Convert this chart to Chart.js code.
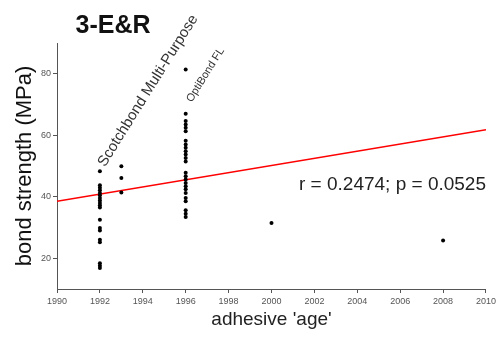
<!DOCTYPE html>
<html>
<head>
<meta charset="utf-8">
<script src="https://cdn.jsdelivr.net/npm/chart.js@4"></script>
<style>
  html, body { margin: 0; padding: 0; background: #fff; }
  #wrap { width: 499px; height: 338px; }
</style>
</head>
<body>
<div id="wrap"><canvas id="bondChart" width="499" height="338"></canvas></div>
<script>
// adhesive "age" (year) and measured bond strength per adhesive
const years = [1992, 1993, 1996, 2000, 2008];
const strengths = [
    [48.3, 43.7, 42.9, 42.1, 41.2, 40.5, 39.6, 38.8, 38.0, 37.2, 36.5, 32.5, 29.8, 29.0, 26.0, 25.2, 18.4, 17.6, 16.8],
    [49.9, 46.1, 41.4],
    [81.4, 67.0, 64.6, 63.5, 62.4, 61.3, 58.2, 57.0, 55.9, 54.8, 53.7, 52.6, 51.5, 47.8, 46.7, 45.6, 44.5, 43.4, 42.4, 41.2, 39.6, 38.5, 35.6, 34.5, 33.4],
    [31.5],
    [25.8]
];

// regression line end points
const fitX = [1990, 2010];
const fitY = [38.5, 61.8];

const yTicks = [20, 40, 60, 80];
const statsText = 'r = 0.2474; p = 0.0525';
const chartTitle = '3-E&R';

// product labels written next to their columns
const productNames = ['Scotchbond Multi-Purpose', 'OptiBond FL'];
const productYears = [1992, 1996];
const productAnchors = [49.5, 70.6];

const FONT = '"Liberation Sans", Arial, sans-serif';

const points = [];
years.forEach((yr, i) => {
    strengths[i].forEach(v => points.push({ x: yr, y: v }));
});

const textPlugin = {
    id: 'textPlugin',
    afterDraw(chart) {
        const ctx = chart.ctx;
        const xs = chart.scales.x;
        const ys = chart.scales.y;
        ctx.save();

        // title
        ctx.fillStyle = '#111';
        ctx.font = 'bold 25px ' + FONT;
        ctx.textAlign = 'center';
        ctx.textBaseline = 'alphabetic';
        ctx.fillText(chartTitle, 113, 33);

        // stats
        ctx.font = '19px ' + FONT;
        ctx.fillStyle = '#222';
        ctx.textAlign = 'right';
        ctx.fillText(statsText, chart.chartArea.right, 190);

        // rotated product names
        const sizes = [15, 11];
        const offs = [5, 6];
        productNames.forEach((name, i) => {
            const px = xs.getPixelForValue(productYears[i]) + offs[i];
            const py = ys.getPixelForValue(productAnchors[i]);
            ctx.save();
            ctx.translate(px, py);
            ctx.rotate(-58 * Math.PI / 180);
            ctx.font = sizes[i] + 'px ' + FONT;
            ctx.fillStyle = '#333';
            ctx.textAlign = 'left';
            ctx.fillText(name, 0, 0);
            ctx.restore();
        });
        ctx.restore();
    }
};

new Chart(document.getElementById('bondChart').getContext('2d'), {
    type: 'scatter',
    data: {
        datasets: [{
            label: 'bond strength',
            data: points,
            backgroundColor: '#000',
            borderColor: '#000',
            pointRadius: 2,
            pointBorderWidth: 0,
            order: 1
        }, {
            type: 'line',
            label: 'fit',
            data: fitX.map((x, i) => ({ x: x, y: fitY[i] })),
            borderColor: '#ff0000',
            borderWidth: 1.5,
            pointRadius: 0,
            fill: false,
            order: 2
        }]
    },
    options: {
        responsive: false,
        animation: false,
        devicePixelRatio: 1,
        layout: { padding: { top: 43, right: 12, left: 0, bottom: 0 } },
        plugins: {
            legend: { display: false },
            tooltip: { enabled: false }
        },
        scales: {
            x: {
                type: 'linear',
                min: 1990,
                max: 2010,
                afterFit(scale) { scale.height = 49; },
                border: { color: '#555', width: 1 },
                grid: { display: true, drawOnChartArea: false, tickLength: 4, color: '#555' },
                ticks: {
                    stepSize: 2,
                    maxRotation: 0,
                    autoSkip: false,
                    padding: 3,
                    color: '#555',
                    font: { family: FONT, size: 9 },
                    callback: v => String(v)
                },
                title: {
                    display: true,
                    text: "adhesive 'age'",
                    color: '#222',
                    font: { family: FONT, size: 19 },
                    padding: { top: 0, bottom: 7 }
                }
            },
            y: {
                type: 'linear',
                min: 10,
                max: 90,
                afterFit(scale) { scale.width = 57; },
                afterBuildTicks(scale) { scale.ticks = yTicks.map(v => ({ value: v })); },
                border: { color: '#555', width: 1 },
                grid: { display: true, drawOnChartArea: false, tickLength: 4, color: '#555' },
                ticks: {
                    padding: 2,
                    color: '#555',
                    font: { family: FONT, size: 9 }
                },
                title: {
                    display: true,
                    text: 'bond strength (MPa)',
                    color: '#111',
                    font: { family: FONT, size: 22 },
                    padding: { top: 12, bottom: 0 }
                }
            }
        }
    },
    plugins: [textPlugin]
});
</script>
</body>
</html>
